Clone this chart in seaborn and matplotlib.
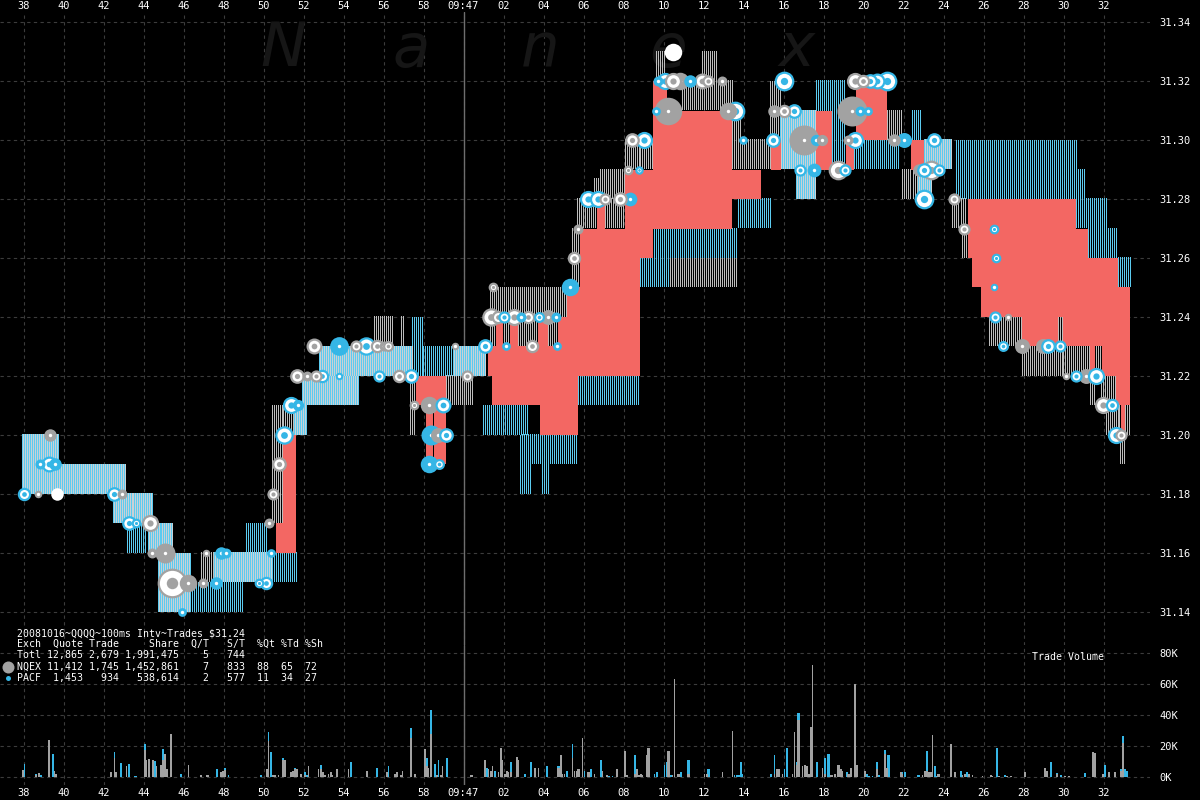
import numpy as np
import pandas as pd
import matplotlib
matplotlib.use("Agg")
import matplotlib.pyplot as plt
from matplotlib.colors import to_rgba
import seaborn as sns

# ---- data: seconds after 09:46:00, prices in $ ----
tick_secs = list(range(38, 93, 2))
tick_labels = ["09:47" if s == 60 else "%02d" % (s % 60) for s in tick_secs]
price_ticks = [31.14, 31.16, 31.18, 31.20, 31.22, 31.24, 31.26, 31.28, 31.30, 31.32, 31.34]
vol_ticks = [0, 20, 40, 60, 80]

# NBBO spread bands (t0, t1, low, high)
light_bands = [
    (37.9, 39.75, 31.19, 31.20), (37.9, 43.08, 31.18, 31.19), (42.45, 44.4, 31.17, 31.18),
    (44.2, 45.4, 31.16, 31.17), (44.73, 46.4, 31.14, 31.16), (47.5, 50.4, 31.15, 31.16),
    (51.5, 52.16, 31.20, 31.21), (51.9, 54.75, 31.21, 31.22), (52.75, 57.45, 31.22, 31.23),
    (59.49, 61.08, 31.22, 31.23), (75.8, 76.6, 31.29, 31.31),
    (76.6, 77.6, 31.28, 31.31), (82.7, 83.4, 31.28, 31.30), (83.0, 84.4, 31.29, 31.30),
]
cyan_bands = [
    (43.18, 44.2, 31.16, 31.17), (46.4, 49.02, 31.14, 31.15), (49.1, 50.2, 31.16, 31.17),
    (50.2, 51.7, 31.15, 31.16), (57.44, 57.99, 31.22, 31.24), (57.99, 59.49, 31.22, 31.23),
    (60.98, 63.3, 31.20, 31.21), (62.9, 65.72, 31.19, 31.20), (62.83, 63.42, 31.18, 31.20),
    (63.92, 64.32, 31.18, 31.20), (65.72, 68.8, 31.21, 31.22), (68.8, 73.7, 31.26, 31.27),
    (68.8, 70.3, 31.25, 31.26), (73.7, 75.4, 31.27, 31.28), (77.63, 79.1, 31.29, 31.32),
    (79.03, 81.8, 31.29, 31.30), (82.4, 82.9, 31.30, 31.31), (84.6, 90.64, 31.28, 31.30),
    (90.64, 91.14, 31.28, 31.29), (90.64, 92.24, 31.27, 31.28), (91.24, 92.74, 31.26, 31.27),
    (92.74, 93.38, 31.25, 31.26),
]
gray_bands = [
    (46.87, 47.5, 31.15, 31.16), (50.4, 50.95, 31.17, 31.21), (50.96, 51.5, 31.20, 31.21),
    (55.5, 56.45, 31.23, 31.24), (56.85, 57.0, 31.23, 31.24), (57.34, 57.64, 31.20, 31.22),
    (58.14, 59.09, 31.19, 31.20), (59.14, 60.48, 31.21, 31.22), (61.33, 65.2, 31.23, 31.25),
    (65.42, 65.92, 31.25, 31.27), (65.67, 66.66, 31.27, 31.28), (67.06, 68.06, 31.27, 31.28),
    (66.5, 67.2, 31.28, 31.287), (66.8, 68.1, 31.28, 31.29), (68.06, 69.46, 31.29, 31.30),
    (70.3, 73.7, 31.25, 31.26), (69.6, 70.1, 31.32, 31.33), (70.9, 73.44, 31.31, 31.32),
    (71.9, 72.7, 31.32, 31.33), (73.44, 73.94, 31.29, 31.31), (73.94, 75.4, 31.29, 31.30),
    (75.3, 75.9, 31.30, 31.32), (81.15, 81.9, 31.30, 31.31), (81.9, 82.8, 31.28, 31.29),
    (84.41, 85.11, 31.27, 31.28), (84.91, 85.41, 31.26, 31.27), (85.41, 85.86, 31.25, 31.26),
    (85.86, 86.25, 31.24, 31.25), (86.25, 87.9, 31.23, 31.24), (87.9, 89.74, 31.22, 31.23),
    (89.74, 89.99, 31.22, 31.24), (89.99, 91.34, 31.22, 31.23), (91.34, 91.59, 31.21, 31.22),
    (91.6, 91.9, 31.22, 31.23), (91.89, 92.64, 31.21, 31.22), (92.14, 93.33, 31.20, 31.21),
    (92.84, 93.08, 31.19, 31.20),
]
red_blocks = [
    (50.6, 51.6, 31.16, 31.17), (50.95, 51.6, 31.17, 31.20), (57.64, 59.14, 31.21, 31.22),
    (58.1, 58.45, 31.19, 31.21), (58.5, 59.1, 31.19, 31.21), (61.23, 68.8, 31.22, 31.23),
    (61.4, 65.72, 31.21, 31.22), (63.82, 65.72, 31.20, 31.21), (61.63, 61.98, 31.23, 31.24),
    (62.33, 62.73, 31.23, 31.24), (63.72, 64.22, 31.23, 31.24), (64.72, 65.42, 31.23, 31.24),
    (65.17, 65.82, 31.24, 31.25), (65.42, 68.8, 31.23, 31.25), (65.82, 68.8, 31.25, 31.27),
    (66.66, 67.06, 31.27, 31.28), (68.06, 69.46, 31.26, 31.29), (69.46, 73.44, 31.27, 31.31),
    (69.46, 70.15, 31.31, 31.32), (73.44, 74.89, 31.28, 31.29), (75.39, 75.89, 31.29, 31.30),
    (77.63, 78.43, 31.29, 31.31), (79.13, 79.53, 31.29, 31.30), (79.6, 81.15, 31.30, 31.32),
    (82.37, 83.0, 31.29, 31.30), (85.2, 90.64, 31.27, 31.28), (85.2, 91.24, 31.26, 31.27),
    (85.41, 92.74, 31.25, 31.26), (85.86, 93.33, 31.24, 31.25), (87.9, 89.74, 31.23, 31.24),
    (89.99, 93.33, 31.23, 31.24), (91.34, 91.59, 31.22, 31.23), (91.9, 93.33, 31.22, 31.23),
    (92.6, 93.33, 31.21, 31.22), (92.85, 93.05, 31.20, 31.21),
]

# trades: time, price, exchange (N=NQEX, P=PACF), dot size px, style (c=solid, w=ring, f=white)
trade_t = [
    38.0, 38.7, 38.8, 39.25, 39.55, 39.3, 39.65, 42.5, 42.9, 43.25,
    43.6, 44.3, 44.4, 45.05, 45.4, 46.2, 45.9, 47.1, 47.85, 48.1,
    46.95, 47.6, 49.75, 50.1, 50.35, 50.25, 50.45, 50.75, 51.0, 51.35,
    51.7, 51.65, 52.15, 52.6, 52.9, 52.5, 53.75, 54.6, 55.1, 55.65,
    56.0, 56.2, 53.75, 55.75, 56.75, 57.35, 57.5, 58.25, 58.95, 58.35,
    58.7, 59.1, 58.25, 58.75, 60.15, 59.55, 61.05, 61.35, 61.7, 62.0,
    62.5, 62.85, 63.2, 63.75, 64.2, 64.6, 61.45, 62.1, 63.4, 64.65,
    65.3, 65.5, 65.7, 66.2, 66.7, 67.05, 67.8, 68.3, 68.2, 68.75,
    68.4, 69.0, 69.6, 70.2, 69.7, 70.05, 70.45, 70.8, 71.3, 70.45,
    71.9, 72.2, 72.9, 73.55, 73.2, 73.95, 75.45, 76.0, 75.5, 76.0,
    76.5, 77.0, 77.6, 77.9, 76.8, 77.5, 78.7, 79.05, 79.4, 79.8,
    80.2, 79.55, 79.95, 80.3, 80.65, 81.15, 79.55, 79.2, 82.0, 81.5,
    82.75, 83.0, 83.35, 83.75, 83.0, 83.5, 84.5, 85.0, 86.5, 86.6,
    86.5, 86.55, 87.2, 86.95, 87.9, 88.95, 89.2, 89.8, 90.1, 90.6,
    91.1, 91.6, 91.95, 92.4, 92.6, 92.85,
]
trade_p = [
    31.18, 31.18, 31.19, 31.19, 31.19, 31.20, 31.18, 31.18, 31.18, 31.17,
    31.17, 31.17, 31.16, 31.16, 31.15, 31.15, 31.14, 31.16, 31.16, 31.16,
    31.15, 31.15, 31.15, 31.15, 31.16, 31.17, 31.18, 31.19, 31.20, 31.21,
    31.21, 31.22, 31.22, 31.22, 31.22, 31.23, 31.23, 31.23, 31.23, 31.23,
    31.23, 31.23, 31.22, 31.22, 31.22, 31.22, 31.21, 31.21, 31.21, 31.20,
    31.20, 31.20, 31.19, 31.19, 31.22, 31.23, 31.23, 31.24, 31.24, 31.24,
    31.24, 31.24, 31.24, 31.24, 31.24, 31.24, 31.25, 31.23, 31.23, 31.23,
    31.25, 31.26, 31.27, 31.28, 31.28, 31.28, 31.28, 31.28, 31.29, 31.29,
    31.30, 31.30, 31.31, 31.31, 31.32, 31.32, 31.32, 31.32, 31.32, 31.33,
    31.32, 31.32, 31.32, 31.31, 31.31, 31.30, 31.30, 31.32, 31.31, 31.31,
    31.31, 31.30, 31.30, 31.30, 31.29, 31.29, 31.29, 31.29, 31.31, 31.31,
    31.31, 31.32, 31.32, 31.32, 31.32, 31.32, 31.30, 31.30, 31.30, 31.30,
    31.29, 31.29, 31.29, 31.29, 31.28, 31.30, 31.28, 31.27, 31.27, 31.26,
    31.25, 31.24, 31.24, 31.23, 31.23, 31.23, 31.23, 31.23, 31.22, 31.22,
    31.22, 31.22, 31.21, 31.21, 31.20, 31.20,
]
trade_size = [
    9, 6, 8, 11, 10, 10, 10, 10, 8, 10,
    6, 12, 8, 16, 22, 14, 7, 6, 10, 8,
    8, 10, 6, 9, 7, 8, 8, 10, 13, 12,
    9, 10, 8, 8, 9, 11, 15, 8, 13, 9,
    8, 7, 6, 8, 9, 10, 6, 14, 11, 16,
    12, 10, 14, 7, 8, 6, 10, 13, 9, 8,
    12, 8, 9, 7, 12, 8, 6, 7, 9, 7,
    14, 9, 8, 12, 12, 8, 10, 11, 6, 5,
    10, 12, 7, 22, 8, 12, 12, 14, 10, 14,
    11, 8, 8, 14, 14, 7, 10, 14, 10, 9,
    10, 24, 9, 9, 8, 11, 14, 8, 24, 8,
    7, 12, 9, 10, 11, 14, 12, 8, 12, 10,
    10, 10, 14, 8, 14, 10, 8, 8, 6, 6,
    6, 8, 6, 7, 12, 12, 10, 8, 6, 8,
    12, 12, 12, 9, 12, 8,
]
trade_ex = list(
    "PNPPPNNPNP" "PNNNNNPNPP" "NPPPPNNNPP" "PNNNPNPNPN" "NNPPNPNNPP"
    "NPPPNNPNNP" "NPNPNPNPNP" "PNNPPNNPNP" "NPPNPPNNPN" "NNNPNPPPNN"
    "PNPNPPNPNP" "PNNPPPPNPN" "NPNPPPNNPP" "PPNPNNPPNP" "NPNPPN"
)
trade_style = list(
    "wccwccfwcw" "wwccwccccc" "ccwwccwwww" "cwcwwwcwww" "cwcwwwwcwc"
    "cwcwwcwwww" "wcwwccwcwc" "cwcwwwwcww" "wwcccwwccf" "wwcwccwwcw"
    "wcccwcwwcc" "cwwwwwwccc" "cwwwwwwwww" "cwcwccwwcw" "cwwwww"
)

# trade volume per 100ms interval (time, thousands of shares)
nqex_volume = [
    (37.96, 4.5), (38.65, 1.5), (38.76, 2.5), (39.26, 24), (39.55, 4), (39.64, 2), (42.36, 3),
    (42.55, 12), (42.65, 3), (43.12, 7), (44.04, 17.5), (44.18, 11), (44.27, 11.5), (44.42, 11),
    (44.65, 7), (44.8, 8), (44.92, 11), (45.04, 15), (45.15, 5), (45.34, 27.5), (46.22, 7.5),
    (46.85, 1), (47.14, 1), (47.24, 1), (47.81, 3), (47.9, 4), (48.04, 4.5), (50.14, 5),
    (50.24, 23), (50.45, 1), (50.58, 1), (50.77, 1), (50.96, 11), (51.06, 11), (51.35, 3),
    (51.46, 4), (51.58, 5), (51.69, 5), (51.82, 2), (52.02, 1), (52.26, 7), (52.72, 5),
    (52.84, 5), (52.93, 3), (53.07, 1), (53.22, 2), (53.35, 3), (53.49, 1), (53.64, 5),
    (54.25, 5), (55.13, 4), (56.13, 3), (56.51, 2), (56.6, 3), (56.8, 1), (56.93, 4),
    (57.31, 25), (57.56, 2), (58.04, 18), (58.17, 7), (58.27, 6), (58.36, 28), (58.61, 1),
    (58.84, 1), (58.99, 7), (59.47, 0.3), (59.66, 0.3), (60.33, 1.5), (60.47, 1), (61.02, 11),
    (61.25, 5), (61.38, 4), (61.48, 7), (61.71, 3), (61.82, 19), (61.92, 11), (62.02, 2),
    (62.15, 4), (62.24, 3), (62.36, 3), (62.63, 13), (62.74, 11), (63.51, 6), (63.74, 6),
    (64.73, 6), (64.85, 14), (64.96, 2), (65.08, 2), (65.44, 12), (65.55, 4), (65.69, 4),
    (65.8, 5), (65.92, 25), (66.26, 3), (66.55, 2), (66.91, 4), (67.16, 1), (67.67, 5),
    (68.02, 17), (68.15, 1), (68.5, 2), (68.65, 5), (68.76, 1), (68.86, 2), (68.96, 1),
    (69.15, 14), (69.26, 19), (70.26, 17), (70.45, 1), (70.56, 63), (70.73, 2), (71.3, 2),
    (72.02, 2), (72.17, 2), (72.93, 3), (73.45, 30), (75.51, 2), (75.61, 5), (75.72, 5),
    (75.9, 2), (76.47, 2), (76.57, 29), (76.64, 8), (76.76, 37), (76.91, 7), (77.02, 8),
    (77.14, 7), (77.25, 2), (77.37, 32), (77.44, 72), (77.94, 6), (78.06, 2), (78.36, 1),
    (78.48, 1), (78.59, 2), (78.71, 8), (78.82, 5), (78.94, 4), (79.24, 2), (79.36, 6),
    (79.55, 60), (79.63, 8), (80.01, 4), (80.64, 5), (81.04, 15), (81.15, 6), (81.82, 3),
    (81.92, 2), (82.97, 1), (83.07, 4), (83.12, 4), (83.22, 3), (83.32, 3), (83.41, 3),
    (83.47, 24), (83.76, 2), (84.31, 21), (84.56, 3), (84.92, 1), (85.09, 2), (85.28, 2),
    (85.49, 1), (85.94, 0.5), (86.32, 1), (86.42, 0.5), (86.8, 0.5), (87.18, 0.5),
    (87.31, 0.5), (88.0, 3), (89.03, 6), (89.13, 4), (89.7, 2), (90.05, 0.5), (90.24, 0.5),
    (91.44, 16), (91.54, 15.5), (91.98, 2), (92.25, 3), (92.53, 3), (92.86, 4), (92.95, 22),
]
pacf_volume = [
    (38.06, 8.5), (38.65, 0.5), (38.86, 1.5), (39.45, 15), (42.55, 4), (42.86, 9), (43.28, 8.5),
    (43.5, 0.5), (43.65, 0.5), (44.04, 4), (44.56, 10.5), (44.92, 7), (45.46, 0.3), (45.84, 2),
    (47.66, 5), (48.04, 1.5), (48.23, 1), (49.82, 1), (50.24, 6), (50.35, 16), (50.96, 1.5),
    (51.58, 0.5), (52.02, 2), (52.11, 1), (52.84, 3), (54.37, 10), (55.63, 5.5), (56.26, 7),
    (57.31, 6.5), (58.17, 5), (58.36, 15.5), (58.52, 8.5), (58.75, 11), (59.13, 12), (61.14, 6),
    (61.59, 4), (62.36, 7), (63.0, 2), (63.32, 10), (64.12, 7), (64.73, 1), (65.19, 4),
    (65.44, 9), (66.03, 4), (66.37, 5), (66.81, 11), (67.29, 0.5), (67.43, 0.5), (68.57, 12),
    (69.59, 2), (69.68, 3.5), (70.07, 8), (70.16, 10), (70.37, 1), (70.83, 3), (71.2, 9),
    (72.26, 5), (73.54, 1), (73.64, 1), (73.74, 1), (73.85, 10), (73.95, 2), (75.32, 2),
    (75.51, 12), (76.05, 5), (76.15, 19), (76.64, 2), (76.76, 4.5), (77.65, 10), (78.06, 10),
    (78.25, 15), (79.15, 3), (80.12, 2), (80.29, 0.5), (80.45, 0.5), (80.64, 5), (80.77, 1),
    (81.04, 2.5), (81.25, 14), (81.92, 1), (82.05, 3), (82.74, 1), (83.12, 13), (83.55, 7),
    (83.64, 0.5), (84.81, 4), (85.19, 3), (86.62, 19), (87.04, 1.5), (89.34, 10), (89.7, 0.5),
    (89.85, 1), (91.02, 2.5), (92.05, 8), (92.86, 1), (92.95, 4.5), (93.05, 5), (93.16, 4),
]

table_rows = [
    "20081016~QQQQ~100ms Intv~Trades $31.24",
    "Exch  Quote Trade     Share  Q/T   S/T  %Qt %Td %Sh",
    "Totl 12,865 2,679 1,991,475    5   744",
    "NQEX 11,412 1,745 1,452,861    7   833  88  65  72",
    "PACF  1,453   934   538,614    2   577  11  34  27",
]

# ---- style ----
RED = "#f36763"
CYAN = "#35b6e6"
CYAN_LINE = "#5ccbf0"
LIGHT_LINE = "#c9d1d6"
GRAY_LINE = "#bdbdbd"
GRAY = "#a2a2a2"
GRID = "#3c3c3c"

sns.set_theme(style="dark", rc={
    "figure.facecolor": "black", "axes.facecolor": "black", "axes.edgecolor": "black",
    "text.color": "white", "xtick.color": "white", "ytick.color": "white",
    "axes.labelcolor": "white",
})
plt.rcParams["font.family"] = ["DejaVu Sans Mono"]

W, H = 1200, 800
PX_PER_S = 20.0            # 2 px per 100ms interval
PX_PER_D = 2950.0
fig = plt.figure(figsize=(12, 8), dpi=100)
ax_p = fig.add_axes([0, 1 - 645 / H, 1150 / W, (645 - 12) / H])
ax_v = fig.add_axes([0, 1 - 785 / H, 1150 / W, (785 - 645) / H])
t_min = 38 - 23.5 / PX_PER_S
t_max = t_min + 1150 / PX_PER_S


# hatched spread bands: one line per 100ms interval, alternating with a gap colour
def hatch(segs, line_color, gap_color):
    a, b = to_rgba(line_color), to_rgba(gap_color)
    for t0, t1, lo, hi in segs:
        n = max(1, int(round((t1 - t0) / 0.05)))
        cols = np.array([a if k % 2 == 0 else b for k in range(n)])[None, :, :]
        ax_p.imshow(cols, extent=(t0, t0 + 0.05 * n, lo, hi), aspect="auto",
                    interpolation="nearest", zorder=2)


hatch(gray_bands, GRAY_LINE, (0, 0, 0, 0))
hatch(cyan_bands, CYAN_LINE, (0, 0, 0, 0))
hatch(light_bands, CYAN_LINE, LIGHT_LINE)
for t0, t1, lo, hi in red_blocks:
    ax_p.fill_between([t0, t1], [lo, lo], [hi, hi], color=RED, lw=0, zorder=3)

ex_color = {"N": GRAY, "P": CYAN}
for i in np.argsort(-np.array(trade_size), kind="stable"):
    c = ex_color[trade_ex[i]]
    d = trade_size[i] * 1.25
    s = (d * 0.72) ** 2
    st = trade_style[i]
    if st == "c":
        ax_p.scatter(trade_t[i], trade_p[i], s=s, color=c, lw=0, zorder=5)
        ax_p.scatter(trade_t[i], trade_p[i], s=6, color="white", lw=0, zorder=5)
    elif st == "w":
        ax_p.scatter(trade_t[i], trade_p[i], s=s, facecolor="white", edgecolor=c, lw=1.6, zorder=5)
        ax_p.scatter(trade_t[i], trade_p[i], s=(d * 0.3) ** 2, color=c, lw=0, zorder=5)
    else:
        ax_p.scatter(trade_t[i], trade_p[i], s=s, color="white", lw=0, zorder=5)

# volume bars: total in cyan, NQEX part in gray underneath
vol = pd.concat([
    pd.DataFrame(nqex_volume, columns=["t", "k"]).assign(exch="NQEX"),
    pd.DataFrame(pacf_volume, columns=["t", "k"]).assign(exch="PACF"),
], ignore_index=True)
nq = vol[vol["exch"] == "NQEX"].reset_index(drop=True)
hist_kw = dict(binwidth=0.1, binrange=(36.8, 94.4), alpha=1, linewidth=0, shrink=1.0,
               antialiased=False, ax=ax_v)
sns.histplot(data=vol, x="t", weights="k", color=CYAN, zorder=3, **hist_kw)
sns.histplot(data=nq, x="t", weights="k", color=GRAY, zorder=3, **hist_kw)

# axes
ax_p.set_xlim(t_min, t_max)
ax_p.set_ylim(31.34 - 623 / PX_PER_D, 31.34 + 10 / PX_PER_D)
ax_v.set_xlim(t_min, t_max)
ax_v.set_ylim(-8 / 1.55, 132 / 1.55)
for ax in (ax_p, ax_v):
    ax.set_xticks(tick_secs)
    ax.set_xticklabels(tick_labels, fontsize=7.5)
    ax.grid(True, color=GRID, ls=(0, (3, 3)), lw=0.8)
    ax.set_axisbelow(True)
    ax.axvline(60, color="#6e6e6e", lw=1, zorder=1)
    ax.set_xlabel("")
    ax.set_ylabel("")
    for sp in ax.spines.values():
        sp.set_visible(False)
    ax.yaxis.tick_right()
ax_p.xaxis.tick_top()
ax_p.set_yticks(price_ticks)
ax_p.set_yticklabels(["%.2f" % p for p in price_ticks], fontsize=7.5)
ax_v.set_yticks(vol_ticks)
ax_v.set_yticklabels(["%dK" % v for v in vol_ticks], fontsize=7.5)
ax_p.tick_params(axis="x", length=0, pad=1)
ax_v.tick_params(axis="x", length=0, pad=2)
ax_p.tick_params(axis="y", length=0, pad=7)
ax_v.tick_params(axis="y", length=0, pad=7)

# watermark
for i, ch in enumerate("Nanex"):
    ax_p.text((283 + 128.5 * i) / W, 1 - 50 / H, ch, transform=fig.transFigure,
              fontsize=44, style="italic", color="#161616", ha="center", va="center",
              family="DejaVu Sans", zorder=0.6)

# overlay for the stats table
ax_o = fig.add_axes([0, 0, 1, 1], zorder=10)
ax_o.set_xlim(0, W)
ax_o.set_ylim(H, 0)
ax_o.axis("off")
for k, row in enumerate(table_rows):
    ax_o.text(17, 633 + 11.2 * k, row, fontsize=7.1, color="white", va="center", ha="left")
ax_o.scatter([8], [667], s=(12 * 0.72) ** 2, color=GRAY, lw=0)
ax_o.scatter([8], [678], s=(5 * 0.72) ** 2, color=CYAN, lw=0)
ax_o.text(1032, 657, "Trade Volume", fontsize=7.1, color="white", va="center", ha="left")

fig.savefig("out.png", dpi=100, facecolor="black")
